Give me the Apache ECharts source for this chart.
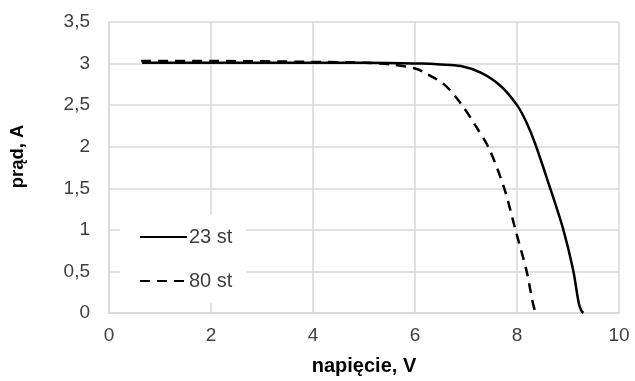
<!DOCTYPE html>
<html>
<head>
<meta charset="utf-8">
<script src="https://cdn.jsdelivr.net/npm/echarts@6/dist/echarts.min.js"></script>
<style>
  html, body { margin: 0; padding: 0; background: #fff; }
  #chart { width: 635px; height: 381px; }
</style>
</head>
<body>
<div id="chart"></div>
<script>
// napięcie (V) i prąd (A)
const seriesNames = ['23 st', '80 st'];
const volt23 = [0.65, 2, 4, 5, 6.12, 6.5, 6.9, 7.29, 7.68, 8.0, 8.18, 8.36, 8.64, 8.9, 9.1, 9.21, 9.26, 9.3];
const amp23 = [3.01, 3.01, 3.01, 3.01, 3.0, 2.99, 2.97, 2.89, 2.73, 2.5, 2.3, 2.03, 1.52, 1.02, 0.52, 0.12, 0.03, 0.0];
const volt80 = [0.63, 2, 4, 5, 5.54, 6.0, 6.19, 6.57, 6.9, 7.18, 7.45, 7.75, 7.97, 8.19, 8.3, 8.35];
const amp80 = [3.03, 3.03, 3.02, 3.01, 2.99, 2.94, 2.89, 2.75, 2.52, 2.26, 1.98, 1.5, 1.0, 0.5, 0.15, 0.03];

const font = 'Liberation Sans, Arial, sans-serif';
const gridColor = '#d9d9d9';
const pairs = (xs, ys) => xs.map((x, i) => [x, ys[i]]);
const comma = v => String(v).replace('.', ',');

const chart = echarts.init(document.getElementById('chart'));

chart.setOption({
  animation: false,
  backgroundColor: '#fff',
  grid: { left: 106, right: 16, top: 22, bottom: 64 },
  legend: {
    orient: 'vertical',
    left: 120,
    top: 215,
    padding: [12, 14, 12, 19],
    backgroundColor: '#fff',
    itemWidth: 47,
    itemHeight: 14,
    itemGap: 24,
    itemStyle: { opacity: 0 },
    textStyle: { fontFamily: font, fontSize: 20, color: '#404040', lineHeight: 20, padding: [0, 0, 0, -3] },
    data: seriesNames
  },
  xAxis: {
    type: 'value',
    min: 0,
    max: 10,
    interval: 2,
    name: 'napięcie, V',
    nameLocation: 'middle',
    nameGap: 43,
    nameTextStyle: { fontFamily: font, fontSize: 20, fontWeight: 'bold', color: '#000' },
    axisLine: { show: true, lineStyle: { color: gridColor, width: 1.5 } },
    axisTick: { show: false },
    axisLabel: { fontFamily: font, fontSize: 19, color: '#404040', margin: 13 },
    splitLine: { show: true, lineStyle: { color: gridColor, width: 1.5 } }
  },
  yAxis: {
    type: 'value',
    min: 0,
    max: 3.5,
    interval: 0.5,
    name: 'prąd, A',
    nameLocation: 'middle',
    nameGap: 82,
    nameTextStyle: { fontFamily: font, fontSize: 18.5, fontWeight: 'bold', color: '#000', padding: [0, 0, 0, 22] },
    axisLine: { show: true, lineStyle: { color: gridColor, width: 1.5 } },
    axisTick: { show: false },
    axisLabel: { fontFamily: font, fontSize: 19, color: '#404040', margin: 19, formatter: comma },
    splitLine: { show: true, lineStyle: { color: gridColor, width: 1.5 } }
  },
  series: [
    {
      name: seriesNames[0],
      type: 'line',
      data: pairs(volt23, amp23),
      symbol: 'none',
      smooth: 0.3,
      lineStyle: { color: '#000', width: 2.5, type: 'solid' },
      itemStyle: { color: '#000' }
    },
    {
      name: seriesNames[1],
      type: 'line',
      data: pairs(volt80, amp80),
      symbol: 'none',
      smooth: 0.3,
      lineStyle: { color: '#000', width: 2.5, type: [10, 7] },
      itemStyle: { color: '#000' }
    }
  ]
});
</script>
</body>
</html>
